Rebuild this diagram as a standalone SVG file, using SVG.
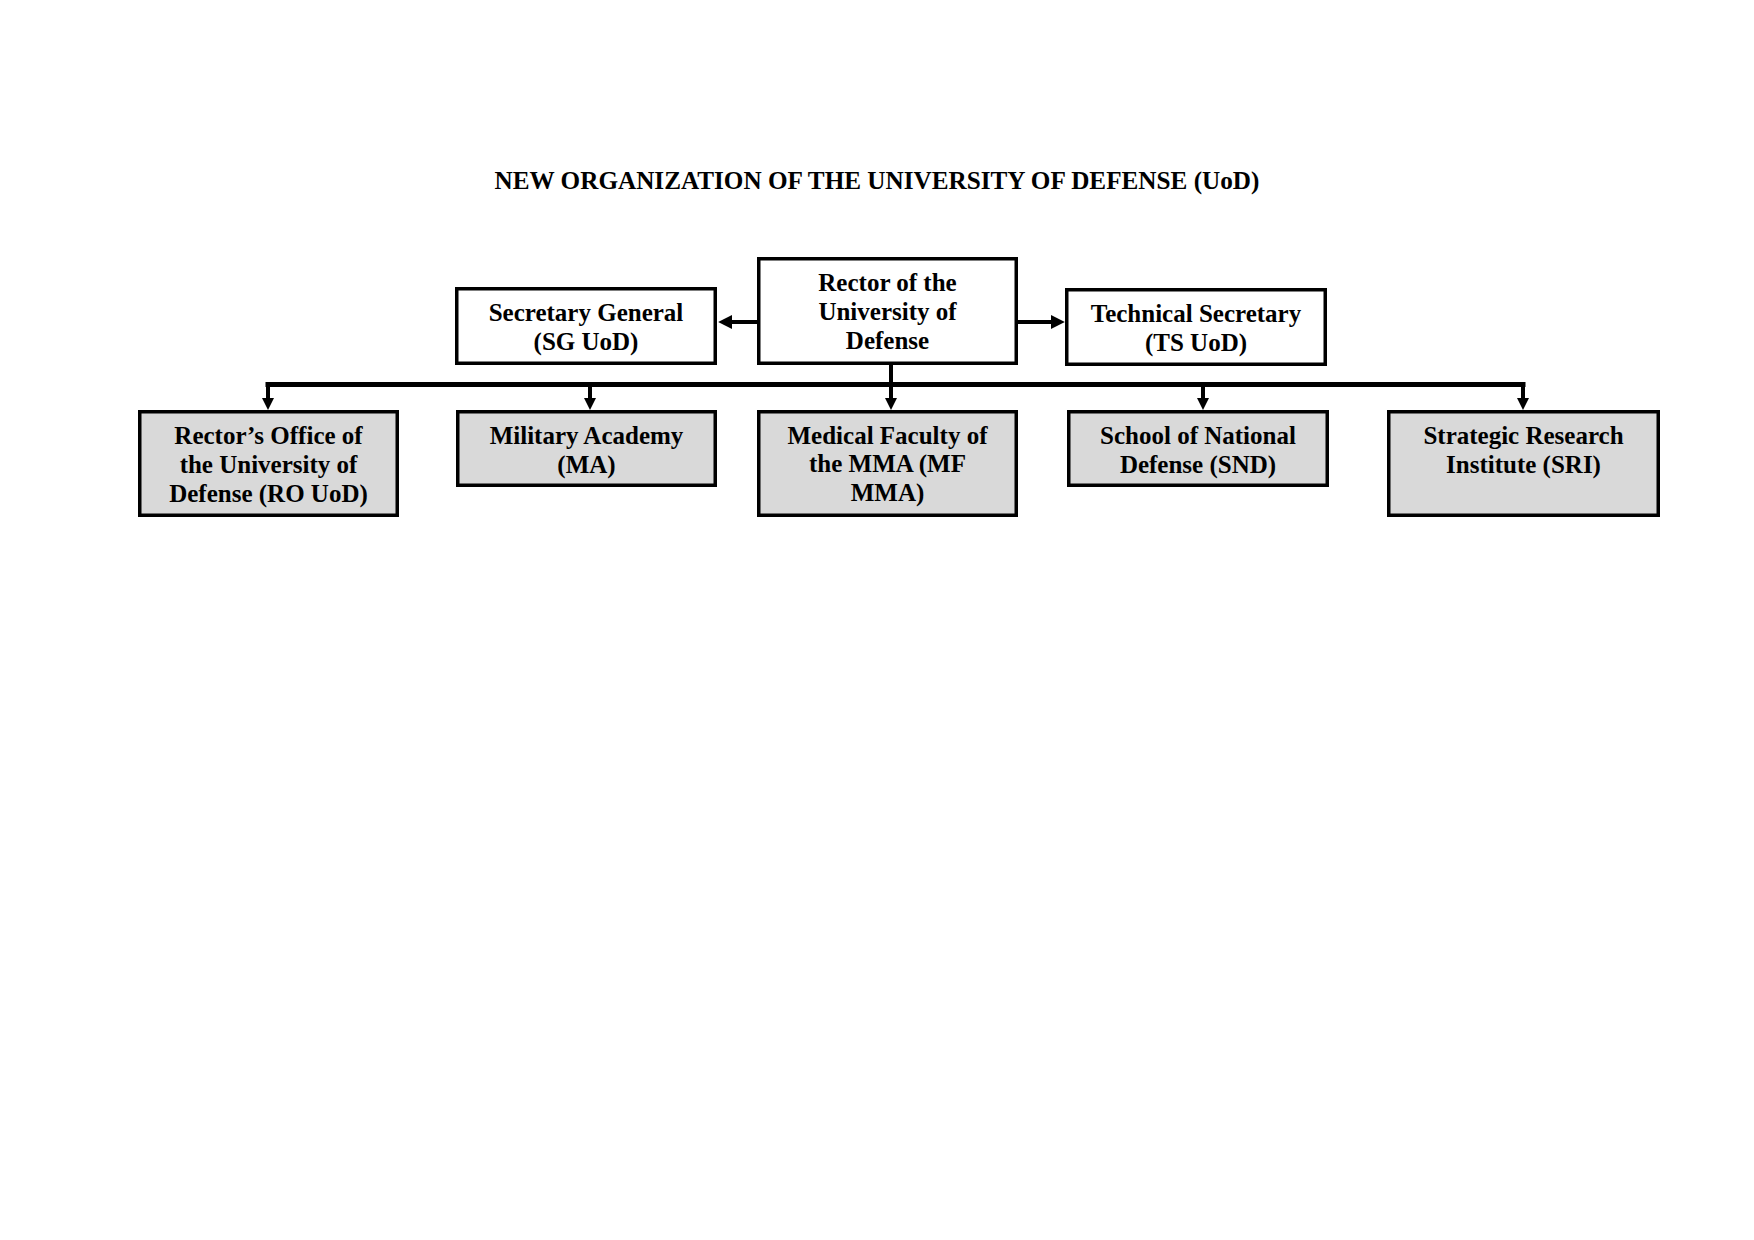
<svg xmlns="http://www.w3.org/2000/svg" width="1754" height="1240" viewBox="0 0 1754 1240">
  <style>
    .box { fill: #ffffff; stroke: #000000; stroke-width: 3.5; }
    .sub { fill: #d9d9d9; stroke: #000000; stroke-width: 3.5; }
    .lbl { font-family: "Liberation Serif", "Times New Roman", serif; font-weight: bold; font-size: 25px; fill: #000000; text-anchor: middle; }
    .title { font-family: "Liberation Serif", "Times New Roman", serif; font-weight: bold; font-size: 25.2px; fill: #000000; text-anchor: middle; }
    .con { fill: none; stroke: #000000; stroke-width: 4; }
    .bus { fill: none; stroke: #000000; stroke-width: 5; stroke-linecap: square; }
  </style>
  <defs>
    <marker id="arr" viewBox="0 0 12 12" refX="4" refY="6" markerWidth="12" markerHeight="12" markerUnits="userSpaceOnUse" orient="auto">
      <path d="M0,0 L12,6 L0,12 z" fill="#000000"/>
    </marker>
    <marker id="arrh" viewBox="0 0 12 12" refX="4" refY="6" markerWidth="14" markerHeight="14" markerUnits="userSpaceOnUse" orient="auto">
      <path d="M0,0 L12,6 L0,12 z" fill="#000000"/>
    </marker>
  </defs>
  <rect width="1754" height="1240" fill="#ffffff"/>

  <text class="title" x="877" y="189">NEW ORGANIZATION OF THE UNIVERSITY OF DEFENSE (UoD)</text>

  <g id="connectors">
    <line class="con" x1="757" y1="322" x2="727.5" y2="322" marker-end="url(#arrh)" stroke-width="4.5"/>
    <line class="con" x1="1018" y1="322" x2="1055.5" y2="322" marker-end="url(#arrh)" stroke-width="4.5"/>
    <line class="con" x1="891" y1="365" x2="891" y2="384"/>
    <line class="bus" x1="268" y1="384.5" x2="1523" y2="384.5"/>
    <line class="con" x1="268" y1="384" x2="268" y2="402" marker-end="url(#arr)"/>
    <line class="con" x1="590" y1="384" x2="590" y2="402" marker-end="url(#arr)"/>
    <line class="con" x1="891" y1="384" x2="891" y2="402" marker-end="url(#arr)"/>
    <line class="con" x1="1203" y1="384" x2="1203" y2="402" marker-end="url(#arr)"/>
    <line class="con" x1="1523" y1="384" x2="1523" y2="402" marker-end="url(#arr)"/>
  </g>

  <g id="rector">
    <rect class="box" x="758.75" y="258.75" width="257.5" height="104.5"/>
    <text class="lbl" x="887.5" y="291">Rector of the</text>
    <text class="lbl" x="887.5" y="320">University of</text>
    <text class="lbl" x="887.5" y="349">Defense</text>
  </g>

  <g id="sg">
    <rect class="box" x="456.75" y="288.75" width="258.5" height="74.5"/>
    <text class="lbl" x="586" y="321">Secretary General</text>
    <text class="lbl" x="586" y="350">(SG UoD)</text>
  </g>

  <g id="ts">
    <rect class="box" x="1066.75" y="289.75" width="258.5" height="74.5"/>
    <text class="lbl" x="1196" y="322">Technical Secretary</text>
    <text class="lbl" x="1196" y="351">(TS UoD)</text>
  </g>

  <g id="ro">
    <rect class="sub" x="139.75" y="411.75" width="257.5" height="103.5"/>
    <text class="lbl" x="268.5" y="444">Rector’s Office of</text>
    <text class="lbl" x="268.5" y="473">the University of</text>
    <text class="lbl" x="268.5" y="502">Defense (RO UoD)</text>
  </g>

  <g id="ma">
    <rect class="sub" x="457.75" y="411.75" width="257.5" height="73.5"/>
    <text class="lbl" x="586.5" y="444">Military Academy</text>
    <text class="lbl" x="586.5" y="473">(MA)</text>
  </g>

  <g id="mf">
    <rect class="sub" x="758.75" y="411.75" width="257.5" height="103.5"/>
    <text class="lbl" x="887.5" y="444">Medical Faculty of</text>
    <text class="lbl" x="887.5" y="472">the MMA (MF</text>
    <text class="lbl" x="887.5" y="501">MMA)</text>
  </g>

  <g id="snd">
    <rect class="sub" x="1068.75" y="411.75" width="258.5" height="73.5"/>
    <text class="lbl" x="1198" y="444">School of National</text>
    <text class="lbl" x="1198" y="473">Defense (SND)</text>
  </g>

  <g id="sri">
    <rect class="sub" x="1388.75" y="411.75" width="269.5" height="103.5"/>
    <text class="lbl" x="1523.5" y="444">Strategic Research</text>
    <text class="lbl" x="1523.5" y="473">Institute (SRI)</text>
  </g>
</svg>
